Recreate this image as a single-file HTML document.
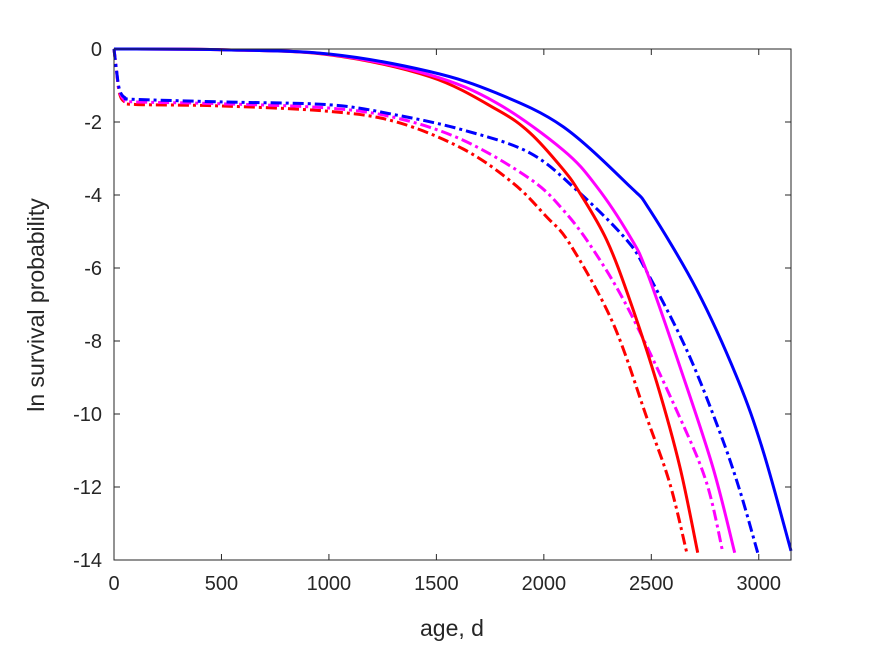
<!DOCTYPE html>
<html><head><meta charset="utf-8"><style>
body{margin:0;background:#fff;}
svg{display:block;font-family:"Liberation Sans",Arial,sans-serif;}
</style></head><body>
<svg id="chart" width="875" height="656">
<rect width="875" height="656" fill="#fff"/>
<g id="plot"></g>
<g id="axes"></g>
</svg>
<script>
const xTicks=[0,500,1000,1500,2000,2500,3000];
const yTicks=[0,-2,-4,-6,-8,-10,-12,-14];
const blueSolidAge=[0,500,1005,1470,1781,2090,2401,2493,2712,2898,3019,3150];
const blueSolidVal=[0,-0.02,-0.14,-0.62,-1.21,-2.13,-3.77,-4.41,-6.60,-8.99,-10.99,-13.75];
const magSolidAge=[0,500,1005,1470,1781,2090,2246,2401,2479,2633,2786,2888];
const magSolidVal=[0,-0.02,-0.15,-0.71,-1.48,-2.77,-3.77,-5.14,-6.1,-8.7,-11.45,-13.8];
const redSolidAge=[0,500,1005,1470,1781,1936,2090,2168,2292,2400,2526,2633,2716];
const redSolidVal=[0,-0.02,-0.16,-0.76,-1.66,-2.3,-3.3,-3.95,-5.23,-6.88,-9.15,-11.45,-13.8];
const blueDashAge=[0,10,25,50,100,500,1005,1315,1625,1936,2168,2385,2479,2665,2819,2912,2995];
const blueDashVal=[0,-0.5,-1.1,-1.33,-1.38,-1.45,-1.53,-1.81,-2.22,-2.85,-3.95,-5.23,-6.1,-8.25,-10.5,-12.1,-13.8];
const magDashAge=[0,10,25,50,100,500,1005,1315,1625,1936,2090,2230,2400,2633,2758,2833];
const magDashVal=[0,-0.5,-1.15,-1.4,-1.45,-1.5,-1.62,-1.89,-2.5,-3.56,-4.41,-5.5,-7.2,-10.1,-11.9,-13.8];
const redDashAge=[0,10,25,50,100,500,1005,1315,1625,1858,2013,2122,2321,2479,2586,2665];
const redDashVal=[0,-0.5,-1.2,-1.45,-1.52,-1.56,-1.71,-2.0,-2.74,-3.68,-4.6,-5.35,-7.5,-10.1,-11.9,-13.8];

const L=114,T=49,R=791,B=560;
const xs=v=>L+v*(R-L)/3150;
const ys=v=>T+(-v)*(B-T)/14;
const NS="http://www.w3.org/2000/svg";
function mk(tag,attrs,parent){const e=document.createElementNS(NS,tag);for(const k in attrs)e.setAttribute(k,attrs[k]);parent.appendChild(e);return e;}
function pathD(ax,ay){
  const p=ax.map((a,i)=>[xs(a),ys(ay[i])]);
  let d="M"+p[0][0]+","+p[0][1];
  for(let i=0;i<p.length-1;i++){
    const p0=p[Math.max(i-1,0)],p1=p[i],p2=p[i+1],p3=p[Math.min(i+2,p.length-1)];
    const c1=[p1[0]+(p2[0]-p0[0])/6,p1[1]+(p2[1]-p0[1])/6];
    const c2=[p2[0]-(p3[0]-p1[0])/6,p2[1]-(p3[1]-p1[1])/6];
    d+=" C"+c1+" "+c2+" "+p2;
  }
  return d;
}
const plot=document.getElementById('plot');
const axes=document.getElementById('axes');
const series=[
 [redDashAge,redDashVal,'#ff0000',true,'red-dashdot-line'],
 [magDashAge,magDashVal,'#ff00ff',true,'magenta-dashdot-line'],
 [blueDashAge,blueDashVal,'#0000ff',true,'blue-dashdot-line'],
 [redSolidAge,redSolidVal,'#ff0000',false,'red-solid-line'],
 [magSolidAge,magSolidVal,'#ff00ff',false,'magenta-solid-line'],
 [blueSolidAge,blueSolidVal,'#0000ff',false,'blue-solid-line']
];
series.forEach(s=>{
  const e=mk('path',{d:pathD(s[0],s[1]),fill:'none',stroke:s[2],'stroke-width':3,'stroke-linejoin':'round'},plot);
  if(s[3])e.setAttribute('stroke-dasharray','11,4,3,4');
  
  
});
const box=mk('rect',{x:L,y:T,width:R-L,height:B-T,fill:'none',stroke:'#262626','stroke-width':1},axes);


xTicks.forEach(t=>{
  const x=xs(t);
  mk('line',{x1:x,x2:x,y1:B,y2:B-6,stroke:'#262626'},axes);
  mk('line',{x1:x,x2:x,y1:T,y2:T+6,stroke:'#262626'},axes);
  const tx=mk('text',{x:x,y:B+30,'text-anchor':'middle','font-size':20,fill:'#262626'},axes);
  tx.textContent=t;
  
  
});
yTicks.forEach(t=>{
  const y=ys(t);
  mk('line',{x1:L,x2:L+6,y1:y,y2:y,stroke:'#262626'},axes);
  mk('line',{x1:R,x2:R-6,y1:y,y2:y,stroke:'#262626'},axes);
  const tx=mk('text',{x:L-12,y:y+7,'text-anchor':'end','font-size':20,fill:'#262626'},axes);
  tx.textContent=t;
  
  
});
const xl=mk('text',{x:452,y:636,'text-anchor':'middle','font-size':23,fill:'#262626'},axes);
xl.textContent='age, d';


const yl=mk('text',{x:0,y:0,transform:'translate(44,305) rotate(-90)','text-anchor':'middle','font-size':23,fill:'#262626'},axes);
yl.textContent='ln survival probability';


</script>
</body></html>
